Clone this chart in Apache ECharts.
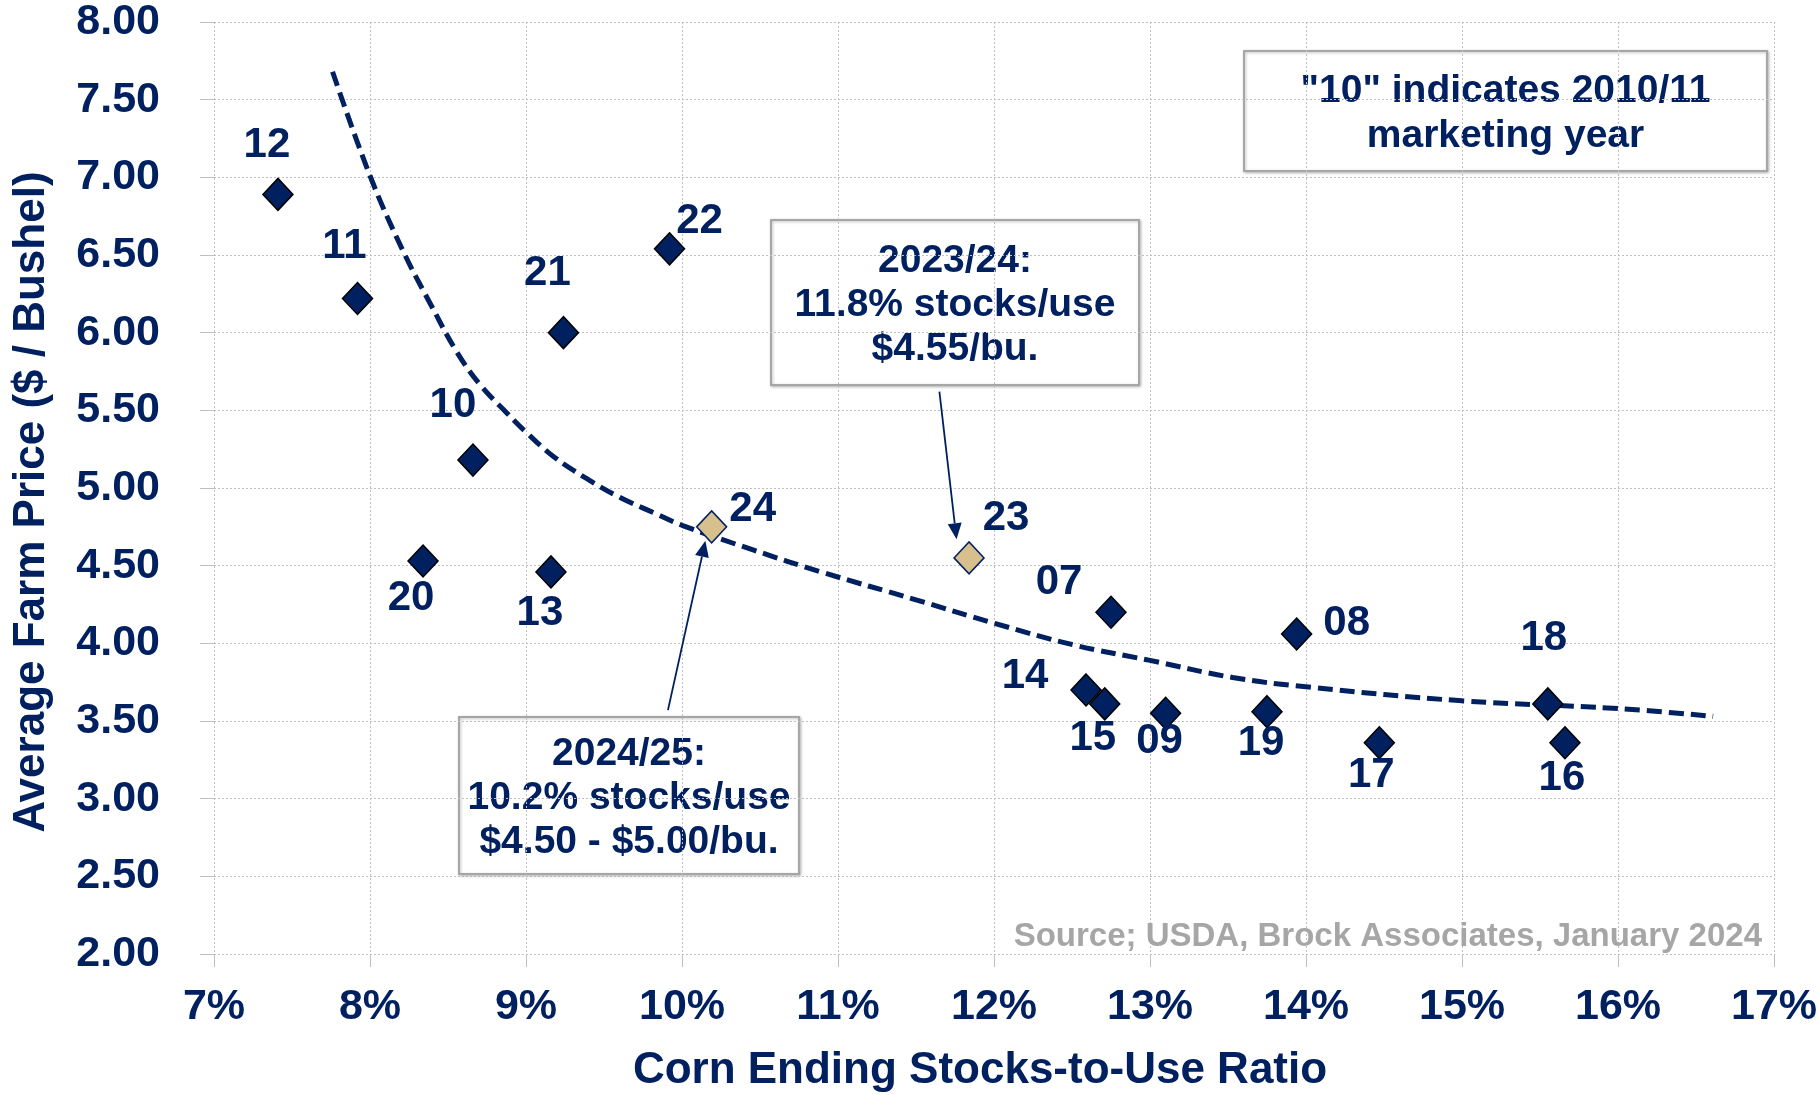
<!DOCTYPE html>
<html>
<head>
<meta charset="utf-8">
<script src="https://cdn.jsdelivr.net/npm/echarts@6/dist/echarts.min.js"></script>
<style>
  html, body { margin: 0; padding: 0; background: #fff; }
  #chart { width: 1819px; height: 1095px; }
</style>
</head>
<body>
<div id="chart"></div>
<script>
// marketing year labels ("10" = 2010/11)
const years = ['12', '11', '22', '21', '10', '20', '13', '07', '08', '14', '15', '09', '19', '17', '18', '16']
const stocksToUse = [7.41, 7.92, 9.92, 9.24, 8.66, 8.34, 9.16, 12.75, 13.94, 12.59, 12.71, 13.10, 13.75, 14.47, 15.55, 15.66]
const farmPrice = [6.89, 6.22, 6.54, 6.00, 5.18, 4.53, 4.46, 4.20, 4.06, 3.70, 3.61, 3.55, 3.56, 3.36, 3.61, 3.36]

// current / projected years
const newYears = ['24', '23']
const newStocksToUse = [10.19, 11.84]
const newFarmPrice = [4.75, 4.55]

// dashed trend line
const trendX = [7.76, 8.0, 8.21, 8.39, 8.56, 8.71, 8.88, 9.0, 9.18, 9.39, 9.6, 9.82, 10.0, 10.46, 10.89, 11.5, 12.0, 12.51, 13.0, 13.53, 14.0, 15.0, 16.0, 16.61]
const trendY = [7.68, 7.01, 6.53, 6.18, 5.87, 5.66, 5.48, 5.36, 5.20, 5.06, 4.94, 4.84, 4.76, 4.60, 4.46, 4.28, 4.13, 3.99, 3.89, 3.78, 3.72, 3.63, 3.58, 3.53]

// callout arrows: [from, to] in data units
const arrow2023 = [[11.65, 5.62], [11.76, 4.67]]
const arrow2024 = [[9.91, 3.57], [10.15, 4.66]]

// axis ticks
const xTicks = [7, 8, 9, 10, 11, 12, 13, 14, 15, 16, 17]
const yTicks = [2, 2.5, 3, 3.5, 4, 4.5, 5, 5.5, 6, 6.5, 7, 7.5, 8]

// label placement (pixel offsets from the marker)
const labelOffset = {
  '12': [-11, -49], '11': [-13, -52], '22': [30, -27], '21': [-16, -59],
  '10': [-20, -55], '20': [-12, 37], '13': [-11, 42], '07': [-52, -30],
  '08': [50, -11], '14': [-61, -14], '15': [-12, 35], '09': [-6, 28],
  '19': [-6, 32], '17': [-8, 33], '18': [-4, -65], '16': [-3, 36],
  '24': [41, -17], '23': [37, -39]
}

const navy = '#002060'
const tan = '#d8bf8e'
const gridGray = '#bfbfbf'
const font = '"Liberation Sans", Arial, sans-serif'

const chart = echarts.init(document.getElementById('chart'))

function pointData(labels, xs, ys) {
  return labels.map((name, i) => ({
    name: name,
    value: [xs[i], ys[i]],
    label: { offset: labelOffset[name] }
  }))
}

const pointLabel = {
  show: true,
  position: 'inside',
  formatter: '{b}',
  color: navy,
  fontSize: 42,
  fontWeight: 'bold',
  fontFamily: font
}

function boxGraphic(x, y, w, h, text, lineHeight) {
  return {
    type: 'group',
    z: 50,
    children: [
      {
        type: 'rect',
        shape: { x: x, y: y, width: w, height: h },
        style: {
          fill: '#fff',
          stroke: '#a6a6a6',
          lineWidth: 2,
          shadowBlur: 3,
          shadowColor: 'rgba(0,0,0,0.25)',
          shadowOffsetX: 1,
          shadowOffsetY: 1
        }
      },
      {
        type: 'text',
        x: x + w / 2,
        y: y + h / 2 + 3,
        style: {
          text: text,
          fill: navy,
          font: 'bold 39px ' + font,
          lineHeight: lineHeight,
          align: 'center',
          verticalAlign: 'middle'
        }
      }
    ]
  }
}

const option = {
  animation: false,
  backgroundColor: '#fff',
  grid: { left: 214, right: 45, top: 22, bottom: 141, outerBoundsMode: 'none' },
  xAxis: {
    type: 'value',
    min: xTicks[0],
    max: xTicks[xTicks.length - 1],
    interval: 1,
    name: 'Corn Ending Stocks-to-Use Ratio',
    nameLocation: 'middle',
    nameGap: 95,
    nameTextStyle: {
      color: navy, fontSize: 44, fontWeight: 'bold', fontFamily: font,
      padding: [0, 28, 0, 0]
    },
    axisLine: { show: false },
    axisTick: { show: true, length: 13, lineStyle: { color: gridGray, width: 1 } },
    axisLabel: {
      formatter: '{value}%',
      color: navy, fontSize: 43, fontWeight: 'bold', fontFamily: font,
      margin: 32
    },
    splitLine: { show: true, lineStyle: { color: gridGray, type: [2, 2], width: 1 } }
  },
  yAxis: {
    type: 'value',
    min: yTicks[0],
    max: yTicks[yTicks.length - 1],
    interval: 0.5,
    name: 'Average Farm Price ($ / Bushel)',
    nameLocation: 'middle',
    nameGap: 160,
    nameTextStyle: {
      color: navy, fontSize: 44, fontWeight: 'bold', fontFamily: font,
      padding: [0, 28, 0, 0]
    },
    axisLine: { show: false },
    axisTick: { show: true, length: 14, lineStyle: { color: gridGray, width: 1 } },
    axisLabel: {
      formatter: v => v.toFixed(2),
      color: navy, fontSize: 43, fontWeight: 'bold', fontFamily: font,
      margin: 54
    },
    splitLine: { show: true, lineStyle: { color: gridGray, type: [2, 2], width: 1 } }
  },
  series: [
    {
      name: 'Trend',
      type: 'line',
      data: trendX.map((x, i) => [x, trendY[i]]),
      smooth: 0.4,
      showSymbol: false,
      symbol: 'none',
      lineStyle: { color: navy, width: 5, type: [15, 7] },
      z: 2
    },
    {
      name: 'Marketing years',
      type: 'scatter',
      symbol: 'diamond',
      symbolSize: [30, 32],
      itemStyle: { color: navy, borderColor: '#000', borderWidth: 1.5, opacity: 1 },
      label: pointLabel,
      z: 5,
      data: pointData(years, stocksToUse, farmPrice)
    },
    {
      name: 'Current',
      type: 'scatter',
      symbol: 'diamond',
      symbolSize: [30, 32],
      itemStyle: { color: tan, borderColor: navy, borderWidth: 1.5, opacity: 1 },
      label: pointLabel,
      z: 5,
      data: pointData(newYears, newStocksToUse, newFarmPrice)
    }
  ],
  graphic: [
    boxGraphic(1244, 51, 523, 120, '"10" indicates 2010/11\nmarketing year', 45),
    boxGraphic(771, 220, 368, 165, '2023/24:\n11.8% stocks/use\n$4.55/bu.', 44),
    boxGraphic(459, 717, 340, 157, '2024/25:\n10.2% stocks/use\n$4.50 - $5.00/bu.', 44),
    {
      type: 'text',
      z: 40,
      x: 1762,
      y: 937,
      style: {
        text: 'Source; USDA, Brock Associates, January 2024',
        fill: '#a6a6a6',
        font: 'bold 33px ' + font,
        align: 'right',
        verticalAlign: 'middle'
      }
    }
  ]
}

chart.setOption(option)

// arrows: positioned through the chart's own axes
function arrowGraphic(seg) {
  const p1 = chart.convertToPixel({ gridIndex: 0 }, seg[0])
  const p2 = chart.convertToPixel({ gridIndex: 0 }, seg[1])
  const dx = p2[0] - p1[0], dy = p2[1] - p1[1]
  const len = Math.sqrt(dx * dx + dy * dy)
  const ux = dx / len, uy = dy / len
  const headLen = 16, headHalf = 7
  const bx = p2[0] - ux * headLen, by = p2[1] - uy * headLen
  return [
    {
      type: 'line',
      z: 45,
      shape: { x1: p1[0], y1: p1[1], x2: bx, y2: by },
      style: { stroke: navy, lineWidth: 1.8 }
    },
    {
      type: 'polygon',
      z: 45,
      shape: {
        points: [
          [p2[0], p2[1]],
          [bx - uy * headHalf, by + ux * headHalf],
          [bx + uy * headHalf, by - ux * headHalf]
        ]
      },
      style: { fill: navy }
    }
  ]
}

chart.setOption({
  graphic: option.graphic.concat(arrowGraphic(arrow2023), arrowGraphic(arrow2024))
})

window.addEventListener('resize', () => chart.resize())
</script>
</body>
</html>
